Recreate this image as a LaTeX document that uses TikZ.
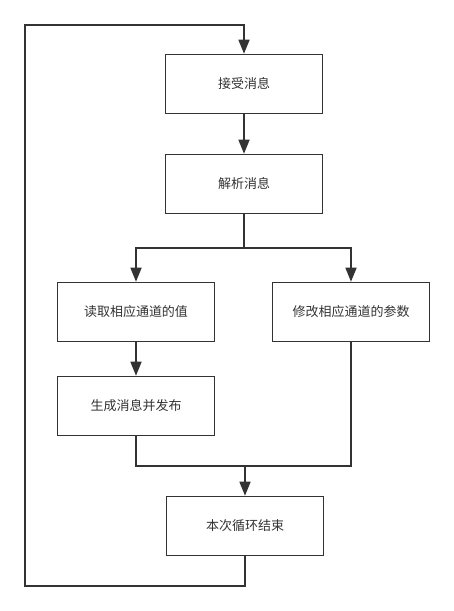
\documentclass[tikz,border=0pt]{standalone}
\usepackage{fontspec}
\newfontfamily\cjk{Noto Sans CJK SC}
\usetikzlibrary{positioning}
\usetikzlibrary{arrows.meta}
\definecolor{linegray}{RGB}{51,51,51}

\begin{document}
\begin{tikzpicture}[x=1pt, y=-1pt,
    every node/.style={draw=linegray, line width=1.6pt, rectangle, minimum width=157pt, minimum height=59pt,
        inner sep=0pt, text=linegray, font=\cjk\fontsize{13}{15}\selectfont},
    link/.style={draw=linegray, line width=1.6pt},
    flow/.style={link, -{Triangle[length=14pt, width=11pt]}}]
    \useasboundingbox (0,0) rectangle (454,611);
    % boxes
    \node (recv) at (244,84) {接受消息};
    \node (parse) at (244,184) {解析消息};
    \node (read) at (136,312) {读取相应通道的值};
    \node (modify) at (351,312) {修改相应通道的参数};
    \node (pub) at (136,406) {生成消息并发布};
    \node (done) at (245,526) {本次循环结束};
    % helper points
    \coordinate (fork) at (244,248);
    \coordinate (merge) at (245,466);
    \coordinate (loopbl) at (25,586);
    \coordinate (looptl) at (25,25);
    % connectors
    \draw[flow] (recv) -- (parse);
    \draw[flow] (parse.south) -- (fork) -| (read.north);
    \draw[flow] (fork) -| (modify.north);
    \draw[flow] (read) -- (pub);
    \draw[link] (pub.south) |- (merge);
    \draw[link] (modify.south) |- (merge);
    \draw[flow] (merge) -- (done.north);
    \draw[flow] (done.south) |- (loopbl) -- (looptl) -| (recv.north);
\end{tikzpicture}
\end{document}
